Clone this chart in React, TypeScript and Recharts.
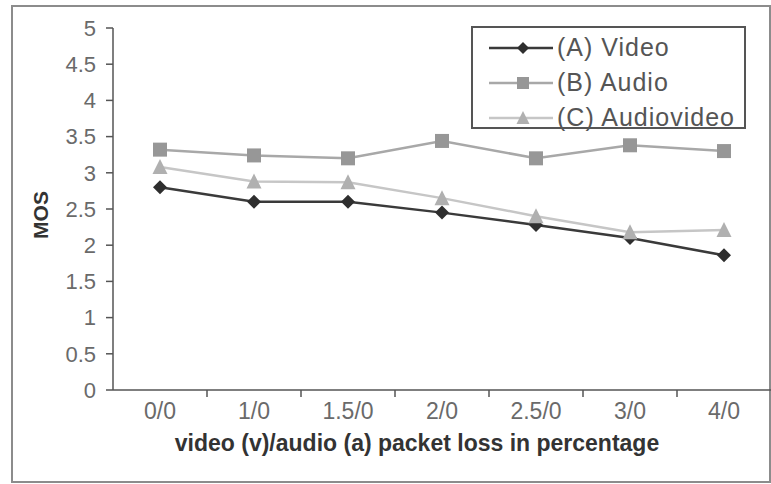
import React from "react";
import {
    Label,
    Legend,
    Line,
    LineChart,
    XAxis,
    YAxis,
} from "recharts";

const categories = ["0/0", "1/0", "1.5/0", "2/0", "2.5/0", "3/0", "4/0"];
const video = [2.8, 2.6, 2.6, 2.45, 2.28, 2.1, 1.86];
const audio = [3.32, 3.24, 3.2, 3.44, 3.2, 3.38, 3.3];
const audioVideo = [3.08, 2.88, 2.87, 2.65, 2.4, 2.18, 2.21];
const yTicks = [0, 0.5, 1, 1.5, 2, 2.5, 3, 3.5, 4, 4.5, 5];
const labelTicks = [0, 1, 2, 3, 4, 5, 6];
const markTicks = [0.5, 1.5, 2.5, 3.5, 4.5, 5.5];

const data = categories.map((name, i) => ({
    i,
    name,
    video: video[i],
    audio: audio[i],
    audioVideo: audioVideo[i],
}));

const FONT = "'Liberation Sans', Arial, sans-serif";

function marker(shape: string, cx: number, cy: number, fill: string, r: number, key?: string) {
    if (shape === "diamond") {
        return (
            <path
                key={key}
                d={`M${cx},${cy - r}L${cx + r},${cy}L${cx},${cy + r}L${cx - r},${cy}Z`}
                fill={fill}
            />
        );
    }
    if (shape === "square") {
        return <rect key={key} x={cx - r} y={cy - r} width={2 * r} height={2 * r} fill={fill} />;
    }
    return (
        <path
            key={key}
            d={`M${cx},${cy - r - 1}L${cx + r + 0.5},${cy + r}L${cx - r - 0.5},${cy + r}Z`}
            fill={fill}
        />
    );
}

const series = [
    { key: "video", name: "(A) Video", line: "#3a3a3a", fill: "#2e2e2e", shape: "diamond" },
    { key: "audio", name: "(B) Audio", line: "#a8a8a8", fill: "#979797", shape: "square" },
    { key: "audioVideo", name: "(C) Audiovideo", line: "#c6c6c6", fill: "#b0b0b0", shape: "triangle" },
];

function LegendBox() {
    return (
        <div
            style={{
                border: "2px solid #555",
                background: "#fff",
                width: 275,
                height: 103,
                boxSizing: "border-box",
                paddingTop: 2,
            }}
        >
            {series.map((s) => (
                <div key={s.key} style={{ display: "flex", alignItems: "center", height: 35 }}>
                    <svg width={84} height={20}>
                        <line x1={16} x2={80} y1={10} y2={10} stroke={s.line} strokeWidth={2.5} />
                        {marker(s.shape, 50, 10, s.fill, 6)}
                    </svg>
                    <span style={{ fontFamily: FONT, fontSize: 25, color: "#555", letterSpacing: 1 }}>
                        {s.name}
                    </span>
                </div>
            ))}
        </div>
    );
}

export default function App() {
    return (
        <div
            style={{
                position: "fixed",
                left: 0,
                top: 0,
                width: 771,
                height: 484,
                background: "#fff",
                overflow: "hidden",
            }}
        >
            <div
                style={{
                    position: "absolute",
                    left: 11,
                    top: 5,
                    width: 760,
                    height: 478,
                    border: "2px solid #8c8c8c",
                    boxSizing: "border-box",
                }}
            />
            <div style={{ position: "absolute", left: 0, top: 0 }}>
                <LineChart
                    width={771}
                    height={484}
                    data={data}
                    margin={{ top: 28, right: 0, left: 0, bottom: 1 }}
                >
                    <XAxis
                        dataKey="i"
                        type="number"
                        domain={[-0.5, 6.5]}
                        ticks={markTicks}
                        tickFormatter={() => ""}
                        height={1}
                        tickSize={7}
                        stroke="#555"
                        axisLine={{ stroke: "#555", strokeWidth: 1.5 }}
                        tickLine={{ stroke: "#555", strokeWidth: 1.5 }}
                    />
                    <XAxis
                        xAxisId="lab"
                        dataKey="i"
                        type="number"
                        domain={[-0.5, 6.5]}
                        ticks={labelTicks}
                        tickFormatter={(v: number) => categories[v]}
                        tickLine={false}
                        axisLine={false}
                        tickSize={7}
                        tickMargin={5}
                        height={92}
                        tick={{ fontFamily: FONT, fontSize: 23, fill: "#6a6a6a" }}
                    >
                        <Label
                            content={({ viewBox }: any) => (
                                <text
                                    x={viewBox.x + viewBox.width / 2 - 25}
                                    y={viewBox.y + 60}
                                    textAnchor="middle"
                                    fontFamily={FONT}
                                    fontSize={23}
                                    fontWeight="bold"
                                    fill="#333"
                                >
                                    video (v)/audio (a) packet loss in percentage
                                </text>
                            )}
                        />
                    </XAxis>
                    <YAxis
                        domain={[0, 5]}
                        ticks={yTicks}
                        width={113}
                        tickSize={7}
                        tickMargin={10}
                        stroke="#555"
                        axisLine={{ stroke: "#555", strokeWidth: 1.5 }}
                        tickLine={{ stroke: "#555", strokeWidth: 1.5 }}
                        tick={{ fontFamily: FONT, fontSize: 22, fill: "#6a6a6a" }}
                    >
                        <Label
                            content={({ viewBox }: any) => {
                                const cy = viewBox.y + viewBox.height / 2 + 6;
                                return (
                                    <text
                                        x={40}
                                        y={cy}
                                        transform={`rotate(-90 40 ${cy})`}
                                        textAnchor="middle"
                                        dominantBaseline="central"
                                        fontFamily={FONT}
                                        fontSize={21}
                                        fontWeight="bold"
                                        fill="#333"
                                    >
                                        MOS
                                    </text>
                                );
                            }}
                        />
                    </YAxis>
                    <Legend
                        layout="vertical"
                        align="center"
                        verticalAlign="middle"
                        wrapperStyle={{ left: 471, top: 26, width: 275, height: 103 }}
                        content={() => <LegendBox />}
                    />
                    {series.map((s) => (
                        <Line
                            key={s.key}
                            dataKey={s.key}
                            name={s.name}
                            type="linear"
                            stroke={s.line}
                            strokeWidth={2.5}
                            isAnimationActive={false}
                            dot={(p: any) => marker(s.shape, p.cx, p.cy, s.fill, 7, `${s.key}-${p.index}`)}
                            activeDot={false}
                        />
                    ))}
                </LineChart>
            </div>
        </div>
    );
}
